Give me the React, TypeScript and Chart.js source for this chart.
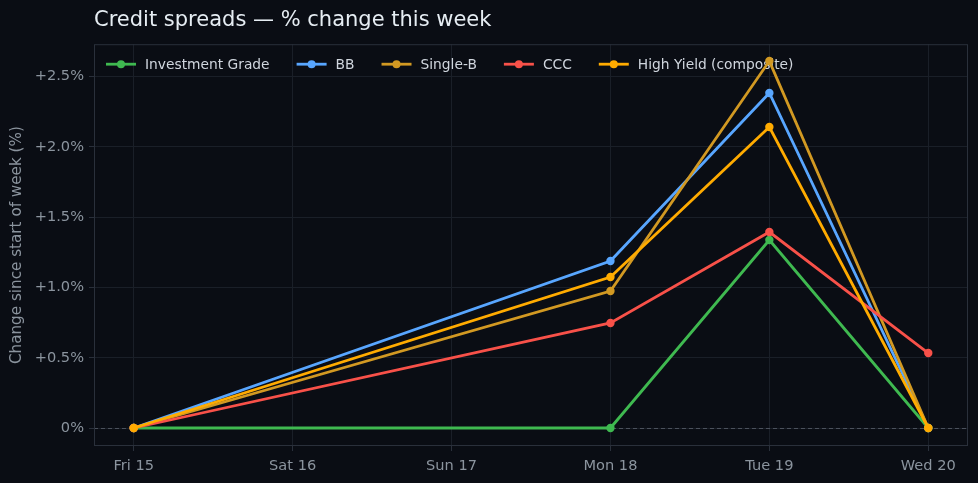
import { useEffect, useRef } from 'react';
import { Chart, registerables } from 'chart.js';

Chart.register(...registerables);

const dayLabels = ['Fri 15', 'Sat 16', 'Sun 17', 'Mon 18', 'Tue 19', 'Wed 20'];
const sampleDays = [0, 3, 4, 5];
const investmentGrade = [0, 0, 1.337, 0];
const bb = [0, 1.188, 2.383, 0];
const singleB = [0, 0.974, 2.61, 0];
const ccc = [0, 0.747, 1.394, 0.533];
const highYield = [0, 1.074, 2.141, 0];
const seriesNames = ['Investment Grade', 'BB', 'Single-B', 'CCC', 'High Yield (composite)'];
const seriesValues = [investmentGrade, bb, singleB, ccc, highYield];
const seriesColors = ['#3fb950', '#58a6ff', '#d29922', '#f85149', '#ffab00'];
const yTicks = [0, 0.5, 1, 1.5, 2, 2.5];

const BG = '#0a0d14';
const GRID = '#1a1f28';
const FRAME = '#2a303b';
const MUTED = '#8b949e';
const FONT = "'DejaVu Sans', sans-serif";

const bgPlugin = {
  id: 'bg',
  beforeDraw(chart: any) {
    const { ctx, width, height } = chart;
    ctx.save();
    ctx.fillStyle = BG;
    ctx.fillRect(0, 0, width, height);
    ctx.restore();
  },
};

const framePlugin = {
  id: 'frame',
  beforeDatasetsDraw(chart: any) {
    const { ctx, chartArea: a, scales } = chart;
    ctx.save();
    const y0 = Math.round(scales.y.getPixelForValue(0)) + 0.5;
    ctx.strokeStyle = '#4b515c';
    ctx.lineWidth = 1;
    ctx.setLineDash([4, 3]);
    ctx.beginPath();
    ctx.moveTo(a.left, y0);
    ctx.lineTo(a.right, y0);
    ctx.stroke();
    ctx.setLineDash([]);
    ctx.strokeStyle = FRAME;
    ctx.strokeRect(a.left + 0.5, a.top + 0.5, a.right - a.left - 1, a.bottom - a.top - 1);

    // legend (drawn beneath the data lines)
    ctx.font = `13.8px ${FONT}`;
    ctx.textBaseline = 'middle';
    let x = a.left + 12;
    const y = a.top + 20;
    chart.data.datasets.forEach((ds: any) => {
      ctx.strokeStyle = ds.borderColor;
      ctx.lineWidth = 2.8;
      ctx.beginPath();
      ctx.moveTo(x, y);
      ctx.lineTo(x + 30, y);
      ctx.stroke();
      ctx.fillStyle = ds.borderColor;
      ctx.beginPath();
      ctx.arc(x + 15, y, 4, 0, Math.PI * 2);
      ctx.fill();
      ctx.fillStyle = '#d0d6de';
      ctx.fillText(ds.label, x + 39, y + 1);
      x += 39 + ctx.measureText(ds.label).width + 27;
    });
    ctx.restore();
  },
};

export default function App() {
  const ref = useRef<HTMLCanvasElement | null>(null);
  useEffect(() => {
    document.body.style.margin = '0';
    document.body.style.background = BG;
    const canvas = ref.current!;
    const datasets = seriesNames.map((name, i) => ({
      label: name,
      data: sampleDays.map((d, j) => ({ x: d, y: seriesValues[i][j] })),
      borderColor: seriesColors[i],
      backgroundColor: seriesColors[i],
      borderWidth: 2.8,
      pointRadius: 4.2,
      pointHoverRadius: 4.2,
      pointBorderWidth: 0,
      tension: 0,
      order: seriesNames.length - i,
    }));
    const chart = new Chart(canvas, {
      type: 'line',
      data: { datasets },
      plugins: [bgPlugin, framePlugin],
      options: {
        animation: false,
        responsive: false,
        devicePixelRatio: 1,
        layout: { padding: { left: 0, right: 10, top: 0, bottom: 0 } },
        plugins: {
          legend: { display: false },
          tooltip: { enabled: false },
          title: {
            display: true,
            text: 'Credit spreads — % change this week',
            align: 'start',
            fullSize: false,
            color: '#e6edf3',
            font: { family: FONT, size: 21, weight: 'normal' },
            padding: { top: 8, bottom: 11 },
          },
        },
        scales: {
          x: {
            type: 'linear',
            min: -0.25,
            max: 5.25,
            afterBuildTicks: (s: any) => {
              s.ticks = dayLabels.map((_, i) => ({ value: i }));
            },
            afterFit: (s: any) => {
              s.height = 37;
            },
            grid: { color: GRID, tickColor: FRAME, tickLength: 5, drawOnChartArea: true },
            border: { display: false },
            ticks: {
              color: MUTED,
              font: { family: FONT, size: 14.6 },
              padding: 6,
              maxRotation: 0,
              autoSkip: false,
              callback: (v: any) => dayLabels[v] ?? '',
            },
          },
          y: {
            type: 'linear',
            min: -0.128,
            max: 2.73,
            afterBuildTicks: (s: any) => {
              s.ticks = yTicks.map((v) => ({ value: v }));
            },
            afterFit: (s: any) => {
              s.width = 94;
            },
            grid: { color: GRID, tickColor: FRAME, tickLength: 5 },
            border: { display: false },
            title: {
              display: true,
              text: 'Change since start of week (%)',
              color: MUTED,
              font: { family: FONT, size: 15.2 },
              padding: { top: 8, bottom: 4 },
            },
            ticks: {
              color: MUTED,
              font: { family: FONT, size: 14.6 },
              padding: 5,
              callback: (v: any) => (v === 0 ? '0%' : '+' + Number(v).toFixed(1) + '%'),
            },
          },
        },
      } as any,
    });
    return () => chart.destroy();
  }, []);
  return <canvas ref={ref} width={978} height={483} style={{ display: 'block' }} />;
}
